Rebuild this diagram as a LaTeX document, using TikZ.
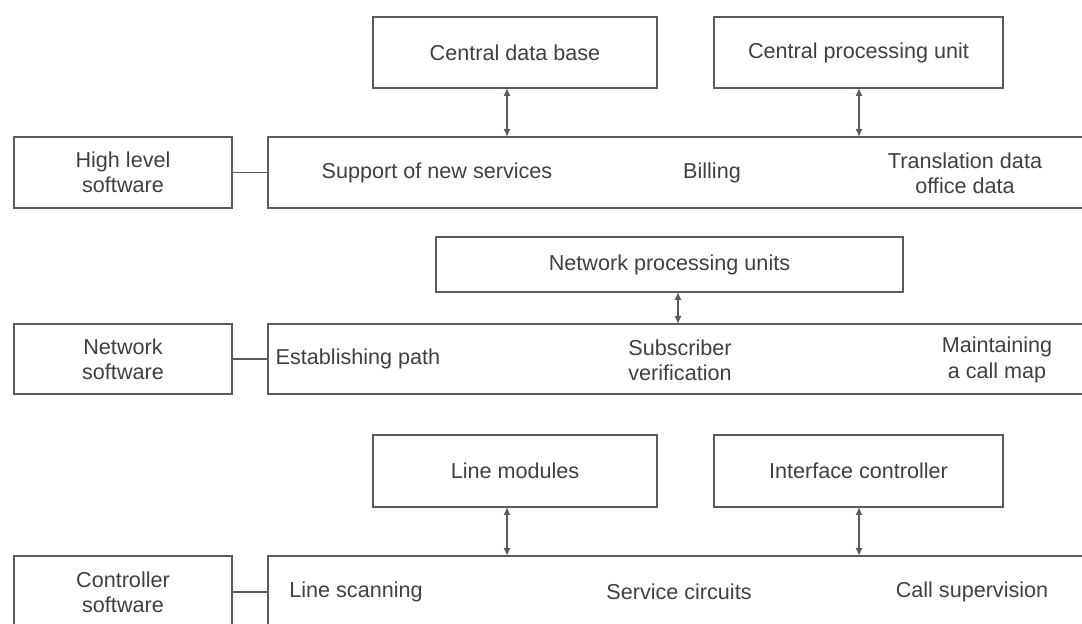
\documentclass[tikz,border=0pt]{standalone}
\usepackage{fontspec}
\setmainfont{Liberation Sans}
\usetikzlibrary{arrows.meta}
\definecolor{lc}{HTML}{5A5A5A}
\definecolor{tc}{HTML}{404040}
\tikzset{
  box/.style={draw=lc, line width=1pt, rectangle, inner sep=0pt, outer sep=0pt, text=tc, align=center, font=\fontsize{10.8}{12.6}\selectfont},
  lbl/.style={inner sep=0pt, text=tc, align=center, font=\fontsize{10.8}{12.6}\selectfont},
  link/.style={draw=lc, line width=0.9pt},
  arr/.style={draw=lc, line width=0.8pt, {Latex[length=4pt,width=3.6pt]}-{Latex[length=4pt,width=3.6pt]}}
}
\begin{document}
\begin{tikzpicture}[x=0.5pt,y=-0.5pt]
\path[use as bounding box, clip] (0,0) rectangle (1082,624);
\fill[white] (0,0) rectangle (1082,624);
% top row
\node[box, minimum width=142pt, minimum height=35.5pt] (cdb) at (515,52.5) {Central data base};
\node[box, minimum width=144.5pt, minimum height=35.5pt] (cpu) at (858.5,52.5) {Central processing unit};
\node[box, minimum width=109pt, minimum height=35.5pt] (hl) at (123,172.5) {High level\\software};
\node[box, minimum width=416pt, minimum height=35.5pt] (b1) at (684,172.5) {};
\node[lbl] (t11) at (437,173) {Support of new services};
\node[lbl] (t12) at (712,173) {Billing};
\node[lbl] (t13) at (965,173) {Translation data\\office data};
\coordinate (xa) at (507,0);
\coordinate (xb) at (859,0);
\coordinate (xc) at (678,0);
\draw[link] (hl.east) -- (b1.west);
\draw[arr] (cdb.south -| xa) -- (b1.north -| xa);
\draw[arr] (cpu.south -| xb) -- (b1.north -| xb);
% middle row
\node[box, minimum width=233.5pt, minimum height=27.5pt] (npu) at (669.5,264.5) {Network processing units};
\node[box, minimum width=109pt, minimum height=35pt] (ns) at (123,359) {Network\\software};
\node[box, minimum width=416pt, minimum height=35pt] (b2) at (684,359) {};
\node[lbl] (t21) at (358,359) {Establishing path};
\node[lbl] (t22) at (680,360) {Subscriber\\verification};
\node[lbl] (t23) at (997,360) {Maintaining\\a call map};
\draw[link] (ns.east) -- (b2.west);
\draw[arr] (npu.south -| xc) -- (b2.north -| xc);
% bottom row
\node[box, minimum width=142pt, minimum height=36pt] (lm) at (515,471) {Line modules};
\node[box, minimum width=144.5pt, minimum height=36pt] (ic) at (858.5,471) {Interface controller};
\node[box, minimum width=109pt, minimum height=36pt] (cs) at (123,592) {Controller\\software};
\node[box, minimum width=416pt, minimum height=36pt] (b3) at (684,592) {};
\node[lbl] (t31) at (356,592) {Line scanning};
\node[lbl] (t32) at (679,592) {Service circuits};
\node[lbl] (t33) at (972,592) {Call supervision};
\draw[link] (cs.east) -- (b3.west);
\draw[arr] (lm.south -| xa) -- (b3.north -| xa);
\draw[arr] (ic.south -| xb) -- (b3.north -| xb);
\end{tikzpicture}
\end{document}
